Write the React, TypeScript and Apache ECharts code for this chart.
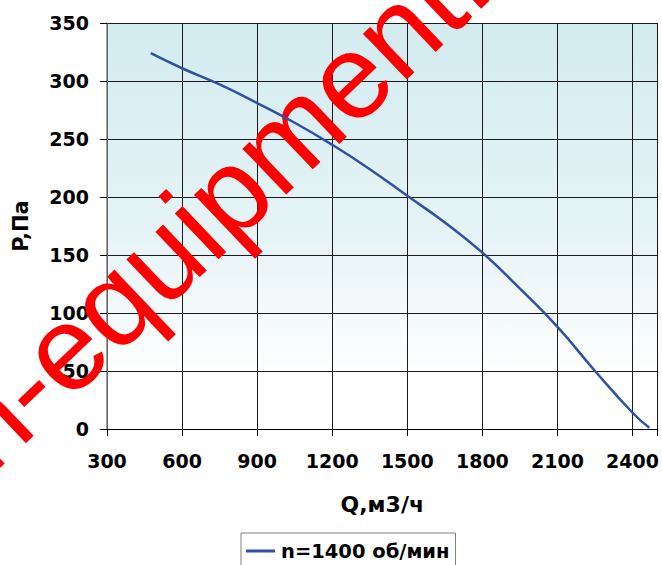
import React, { useEffect, useRef } from "react";
import * as echarts from "echarts";

const flowQ = [475, 600, 750, 900, 1050, 1200, 1350, 1500, 1650, 1800, 1950, 2100, 2250, 2400, 2467];
const pressureP = [324, 311, 297, 281, 264, 245, 224, 201, 178, 152, 121, 88, 50, 14, 1];
const seriesName = "n=1400 об/мин";
const xTitle = "Q,м3/ч";
const yTitle = "P,Па";
const watermark = "n-equipment.ru";

const labelFont = "DejaVu Sans";

export default function App() {
  const ref = useRef<HTMLDivElement>(null);

  useEffect(() => {
    document.body.style.margin = "0";
    if (!ref.current) return;
    const chart = echarts.init(ref.current, undefined, { renderer: "svg" });
    const data = flowQ.map((q, i) => [q, pressureP[i]]);
    chart.setOption({
      animation: false,
      backgroundColor: "#ffffff",
      grid: {
        left: 107,
        top: 23,
        width: 557,
        height: 406,
        show: true,
        borderWidth: 0,
        backgroundColor: new echarts.graphic.LinearGradient(0, 0, 0, 1, [
          { offset: 0, color: "#D3ECF0" },
          { offset: 0.5, color: "#E5F3F6" },
          { offset: 0.88, color: "#FFFFFF" },
          { offset: 1, color: "#FFFFFF" },
        ]),
      },
      legend: {
        left: 241,
        top: 533,
        padding: [8, 6, 8, 5],
        borderColor: "#808080",
        borderWidth: 1,
        backgroundColor: "#ffffff",
        icon: "rect",
        itemWidth: 29,
        itemHeight: 3,
        itemGap: 10,
        textStyle: {
          fontFamily: labelFont,
          fontWeight: "bold",
          fontSize: 19.5,
          color: "#000",
          padding: [0, 0, 0, 1],
        },
        data: [seriesName],
      },
      xAxis: {
        type: "value",
        min: 300,
        max: 2500,
        interval: 300,
        name: xTitle,
        nameLocation: "middle",
        nameGap: 64,
        nameTextStyle: {
          fontFamily: labelFont,
          fontWeight: "bold",
          fontSize: 22,
          color: "#000",
        },
        axisLine: { show: true, lineStyle: { color: "#000", width: 1 } },
        axisTick: { show: true, length: 7, lineStyle: { color: "#000" } },
        axisLabel: {
          margin: 22,
          fontFamily: labelFont,
          fontWeight: "bold",
          fontSize: 19,
          color: "#000",
          formatter: (v: number) => (v % 300 === 0 && v <= 2400 ? String(v) : ""),
        },
        splitLine: { show: true, lineStyle: { color: "#1a1a1a", width: 1 } },
      },
      yAxis: {
        type: "value",
        min: 0,
        max: 350,
        interval: 50,
        name: yTitle,
        nameLocation: "middle",
        nameGap: 76,
        nameRotate: 90,
        nameTextStyle: {
          fontFamily: labelFont,
          fontWeight: "bold",
          fontSize: 21,
          color: "#000",
        },
        axisLine: { show: true, lineStyle: { color: "#808080", width: 1.5 } },
        axisTick: { show: true, length: 7, lineStyle: { color: "#000" } },
        axisLabel: {
          margin: 18,
          fontFamily: labelFont,
          fontWeight: "bold",
          fontSize: 19,
          color: "#000",
        },
        splitLine: { show: true, lineStyle: { color: "#1a1a1a", width: 1 } },
      },
      graphic: [
        {
          type: "text",
          x: -38,
          y: 446,
          rotation: 0.762,
          z: 1,
          silent: true,
          style: {
            text: watermark,
            fontFamily: "Liberation Sans",
            fontSize: 120,
            fill: "#FF0000",
            textAlign: "left",
            textVerticalAlign: "middle",
          },
        },
      ],
      series: [
        {
          name: seriesName,
          type: "line",
          data,
          smooth: true,
          symbol: "none",
          z: 5,
          lineStyle: { color: "#2F50A3", width: 2.5 },
          itemStyle: { color: "#2F50A3" },
        },
      ],
    });
    return () => chart.dispose();
  }, []);

  return <div ref={ref} style={{ width: 662, height: 565 }} />;
}
